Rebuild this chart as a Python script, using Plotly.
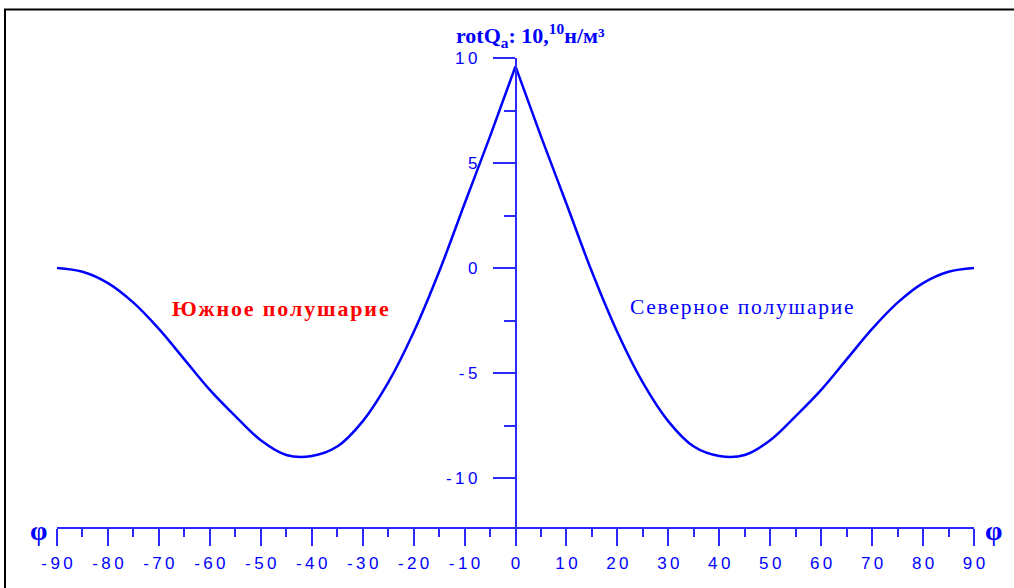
import plotly.graph_objects as go

# rotQ (10^10 N/m3), southern and northern hemisphere
lat_south = [-90, -85, -80, -75, -70, -65, -60, -55, -50, -45, -40, -35, -30, -25, -20, -15, -10, -5, 0]
rot_south = [0.0, -0.18, -0.72, -1.65, -2.9, -4.35, -5.8, -7.05, -8.2, -8.9, -8.95, -8.5, -7.3, -5.46, -3.06, -0.18, 3.06, 6.27, 9.6]
lat_north = [0, 5, 10, 15, 20, 25, 30, 35, 40, 45, 50, 55, 60, 65, 70, 75, 80, 85, 90]
rot_north = [9.6, 6.27, 3.06, -0.18, -3.06, -5.46, -7.3, -8.5, -8.95, -8.9, -8.2, -7.05, -5.8, -4.35, -2.9, -1.65, -0.72, -0.18, 0.0]

x_tick_vals = [-90, -80, -70, -60, -50, -40, -30, -20, -10, 0, 10, 20, 30, 40, 50, 60, 70, 80, 90]
x_tick_labels = ["-90", "-80", "-70", "-60", "-50", "-40", "-30", "-20", "-10", "0",
                 "10", "20", "30", "40", "50", "60", "70", "80", "90"]
y_tick_vals = [-10, -5, 0, 5, 10]
y_tick_labels = ["-10", "-5", "0", "5", "10"]

BLUE = "#0000ff"
AXIS = "#2a2aff"
W, H = 1014, 588
L, R, T, B = 57, 40, 58, 61


def spaced(s, sep="\u2009"):
    # the original text is drawn with wide letter spacing
    return sep.join(s)


def px(x):
    return (x - L) / (W - L - R)


def py(y):
    return (H - B - y) / (H - T - B)


fig = go.Figure()

for lat, rot in ((lat_south, rot_south), (lat_north, rot_north)):
    fig.add_trace(go.Scatter(x=lat, y=rot, mode='lines',
                             line=dict(color=BLUE, width=2.5, shape='spline', smoothing=1.0),
                             showlegend=False, hoverinfo='x+y'))

tick_font = dict(family="Liberation Sans, Arial", size=17, color=BLUE)

fig.update_layout(
    width=W, height=H,
    margin=dict(l=L, r=R, t=T, b=B, pad=0),
    paper_bgcolor="white",
    plot_bgcolor="white",
    showlegend=False,
    xaxis=dict(
        range=[-90, 90],
        showgrid=False, zeroline=False,
        showline=True, linecolor=AXIS, linewidth=1.5,
        ticks='outside', ticklen=17, tickwidth=1.5, tickcolor=AXIS,
        tickvals=x_tick_vals, ticktext=[spaced(t) for t in x_tick_labels],
        tickfont=tick_font, ticklabelstandoff=3,
        minor=dict(dtick=5, tick0=0, ticklen=8, tickwidth=1.5, tickcolor=AXIS,
                   ticks='outside', showgrid=False),
        fixedrange=True,
    ),
    yaxis=dict(
        range=[-12.33, 10],
        anchor='free', position=0.5, side='left',
        showgrid=False, zeroline=False,
        showline=True, linecolor=AXIS, linewidth=1.5,
        ticks='outside', ticklen=22, tickwidth=1.5, tickcolor=AXIS,
        tickvals=y_tick_vals, ticktext=[spaced(t) for t in y_tick_labels],
        tickfont=tick_font, ticklabelstandoff=12,
        minor=dict(dtick=2.5, tick0=0, ticklen=11, tickwidth=1.5, tickcolor=AXIS,
                   ticks='outside', showgrid=False),
        fixedrange=True,
    ),
)

# outer frame of the original picture
fig.add_shape(type='rect', xref='paper', yref='paper',
              x0=px(5), x1=px(W + 20), y0=py(H + 20), y1=py(9.5),
              line=dict(color="black", width=2), fillcolor='rgba(0,0,0,0)', layer='below')

serif = "Liberation Serif, Times New Roman, serif"

fig.add_annotation(
    xref='paper', yref='paper', x=px(530), y=py(36), xanchor='center', yanchor='middle',
    text="<b>rotQ<sub>a</sub>: 10,<sup>10</sup>н/м³</b>", showarrow=False,
    font=dict(family=serif, size=22, color=BLUE))

fig.add_annotation(
    xref='paper', yref='paper', x=px(280), y=py(308), xanchor='center', yanchor='middle',
    text="<b>" + spaced("Южное полушарие", "\u200a") + "</b>", showarrow=False,
    font=dict(family=serif, size=22, color="#ff0000"))

fig.add_annotation(
    xref='paper', yref='paper', x=px(742), y=py(307), xanchor='center', yanchor='middle',
    text=spaced("Северное полушарие", "\u200a"), showarrow=False,
    font=dict(family=serif, size=21.5, color=BLUE))

for xx in (38, 993):
    fig.add_annotation(
        xref='paper', yref='paper', x=px(xx), y=py(530), xanchor='center', yanchor='middle',
        text="<b>φ</b>", showarrow=False,
        font=dict(family=serif, size=28, color=BLUE))

fig.write_html("out.html", config={'displayModeBar': False},
               post_script="document.body.style.margin='0';")
